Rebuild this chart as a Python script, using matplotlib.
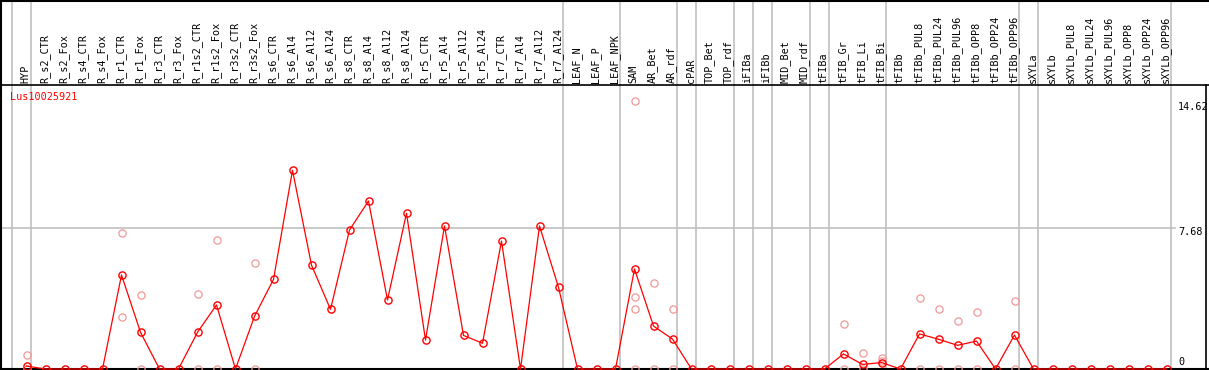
import matplotlib
matplotlib.use('Agg')
import matplotlib.pyplot as plt

samples = ['HYP', 'R_s2_CTR', 'R_s2_Fox', 'R_s4_CTR', 'R_s4_Fox', 'R_r1_CTR', 'R_r1_Fox',
           'R_r3_CTR', 'R_r3_Fox', 'R_r1s2_CTR', 'R_r1s2_Fox', 'R_r3s2_CTR', 'R_r3s2_Fox',
           'R_s6_CTR', 'R_s6_Al4', 'R_s6_Al12', 'R_s6_Al24', 'R_s8_CTR', 'R_s8_Al4',
           'R_s8_Al12', 'R_s8_Al24', 'R_r5_CTR', 'R_r5_Al4', 'R_r5_Al12', 'R_r5_Al24',
           'R_r7_CTR', 'R_r7_Al4', 'R_r7_Al12', 'R_r7_Al24', 'LEAF_N', 'LEAF_P', 'LEAF_NPK',
           'SAM', 'AR_Bet', 'AR_rdf', 'cPAR', 'TOP_Bet', 'TOP_rdf', 'iFIBa', 'iFIBb',
           'MID_Bet', 'MID_rdf', 'tFIBa', 'tFIB_Gr', 'tFIB_Li', 'tFIB_Bi', 'tFIBb',
           'tFIBb_PUL8', 'tFIBb_PUL24', 'tFIBb_PUL96', 'tFIBb_OPP8', 'tFIBb_OPP24',
           'tFIBb_OPP96', 'sXYLa', 'sXYLb', 'sXYLb_PUL8', 'sXYLb_PUL24', 'sXYLb_PUL96',
           'sXYLb_OPP8', 'sXYLb_OPP24', 'sXYLb_OPP96']

# mean expression per sample
means = [0.16, 0, 0, 0, 0, 5.12, 2.0, 0, 0, 2.0, 3.49, 0, 2.87,
         4.88, 10.82, 5.66, 3.25, 7.57, 9.15, 3.76, 8.48, 1.58, 7.79, 1.83, 1.40,
         6.97, 0, 7.79, 4.45, 0, 0, 0,
         5.45, 2.34, 1.63, 0, 0, 0, 0, 0, 0, 0, 0,
         0.82, 0.25, 0.35, 0, 1.91, 1.62, 1.29, 1.52, 0, 1.85,
         0, 0, 0, 0, 0, 0, 0, 0]

# replicate values (only the ones that show up apart from the mean)
rep_idx = [0, 0, 5, 5, 6, 6, 9, 9, 10, 10, 12, 12,
           32, 32, 32, 32, 33, 33, 34, 34,
           43, 43, 44, 44, 45, 45, 47, 47, 48, 48, 49, 49, 50, 50, 52, 52]
rep_vals = [0.75, 0, 7.39, 2.82, 4.01, 0, 4.07, 0, 7.01, 0, 5.75, 0,
            14.62, 3.90, 3.25, 0, 4.67, 0, 3.25, 0,
            2.43, 0, 0.85, 0, 0.58, 0.45, 3.85, 0, 3.25, 0, 2.61, 0, 3.10, 0, 3.69, 0]

# group boundaries (after column k)
group_breaks = [-1, 0, 28, 31, 34, 35, 37, 38, 39, 41, 42, 45, 52, 53, 60]

y_ticks = [0, 7.68, 14.62]
gene = 'Lus10025921'

W, H = 1209, 370
X0, DX = 26.5, 19.0      # pixel x of first column, column step
Y0, DY = 369.0, 18.36    # pixel y of zero, pixels per unit

fig = plt.figure(figsize=(W / 100, H / 100), dpi=100)
ax = fig.add_axes([0, 0, 1, 1])
ax.set_xlim(-X0 / DX, (W - X0) / DX)
ax.set_ylim(-(H - Y0) / DY, Y0 / DY)
ax.axis('off')

mono = 'DejaVu Sans Mono'
grid_c = '#c0c0c0'

def fy(px):
    return 1 - px / H

# vertical group separators
for k in group_breaks:
    ax.axvline(k + 0.24, color=grid_c, lw=1.2, zorder=1)

# horizontal gridline at middle tick
xr = (1175 - X0) / DX
ax.plot([ax.get_xlim()[0], xr], [y_ticks[1], y_ticks[1]], color=grid_c, lw=1.2, zorder=1)

# frame lines
ax.plot([0, 1], [fy(85), fy(85)], color='black', lw=1.2, transform=ax.transAxes, clip_on=False)
ax.plot([0, 1], [fy(0.5), fy(0.5)], color='black', lw=1.5, transform=ax.transAxes, clip_on=False)
ax.plot([0.5 / W, 0.5 / W], [0, 1], color='black', lw=1.5, transform=ax.transAxes, clip_on=False)
ax.plot([1205.5 / W, 1205.5 / W], [fy(85), 0], color='black', lw=1.2, transform=ax.transAxes, clip_on=False)
ax.axhline(0, color='black', lw=1.5, zorder=2)

# column labels
for i, name in enumerate(samples):
    ax.text(i - 0.05, fy(83), name, rotation=90, ha='center', va='bottom',
            fontsize=7.3, family=mono, transform=ax.get_xaxis_transform())

# y labels on the right
lbl_x = (1178 - X0) / DX
for v, py in zip(y_ticks, [362, 232, 107]):
    s = '0' if v == 0 else f'{v:.2f}'
    ax.text(lbl_x, fy(py), s, ha='left', va='center', fontsize=7.3, family=mono,
            transform=ax.get_xaxis_transform())

ax.text((10 - X0) / DX, fy(97), gene, color='red', ha='left', va='center',
        fontsize=7.3, family=mono, transform=ax.get_xaxis_transform())

# replicates
ax.plot(rep_idx, rep_vals, linestyle='none', marker='o', ms=5.2, mfc='none',
        mec='#f09898', mew=0.9, zorder=3, clip_on=False)

# mean profile
ax.plot(range(len(samples)), means, color='red', lw=0.9, marker='o', ms=5.2,
        mfc='none', mec='red', mew=1.0, zorder=4, clip_on=False)

fig.savefig('out.png', dpi=100)
